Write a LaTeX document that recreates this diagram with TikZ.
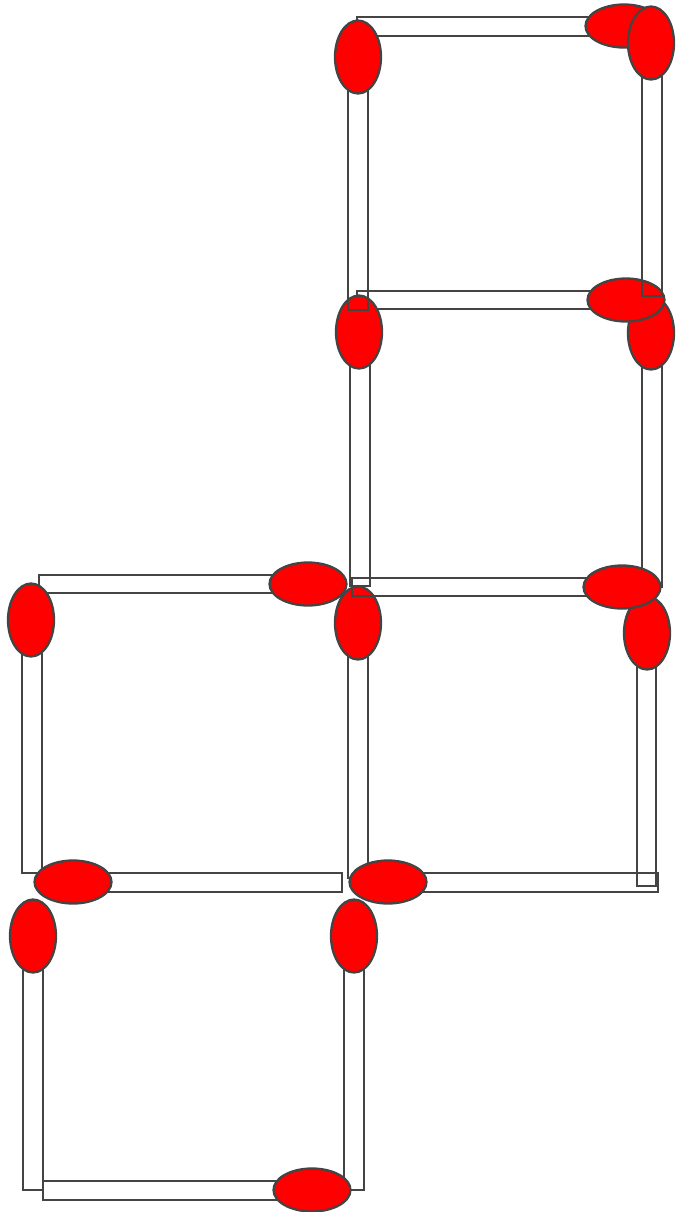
\documentclass[tikz,border=0pt]{standalone}
\usepackage{tikz}
\definecolor{edgegray}{HTML}{444444}
\definecolor{headred}{HTML}{FF0000}
\begin{document}
\begin{tikzpicture}[x=0.5pt,y=-0.5pt,
  stick/.style={draw=edgegray,line width=1.15pt},
  headv/.style={draw=edgegray,fill=headred,line width=1.15pt,x radius=11.5pt,y radius=18.25pt},
  headh/.style={draw=edgegray,fill=headred,line width=1.15pt,x radius=19.25pt,y radius=10.75pt}]
\useasboundingbox (0,0) rectangle (677,1212);
% M6 second square right vertical
\draw[stick] (642,333) rectangle (662,587);
\path[headv] (651,333) ellipse [];
% M4 second horizontal
\draw[stick] (357,291) rectangle (626,309);
\path[headh] (626,300) ellipse [];
% M1 top horizontal
\draw[stick] (357,17) rectangle (624,36);
\path[headh] (624,26) ellipse [];
% M5 second square left vertical
\draw[stick] (350,332) rectangle (370,586);
\path[headv] (359,332) ellipse [];
% M2 top square left vertical
\draw[stick] (348,57) rectangle (368,310);
\path[headv] (358,57) ellipse [];
% M3 top square right vertical
\draw[stick] (642,43) rectangle (662,296);
\path[headv] (651,43) ellipse [];
% M10 lower right square left vertical
\draw[stick] (348,623) rectangle (368,878);
\path[headv] (358,623) ellipse [];
% M11 lower right square right vertical
\draw[stick] (637,633) rectangle (656,886);
\path[headv] (647,633) ellipse [];
% M7 third horizontal right
\draw[stick] (352,578) rectangle (622,596);
\path[headh] (622,587) ellipse [];
% M8 left square top horizontal
\draw[stick] (39,575) rectangle (308,593);
\path[headh] (308,584) ellipse [];
% M9 left square left vertical
\draw[stick] (22,620) rectangle (42,873);
\path[headv] (31,620) ellipse [];
% M12 left bottom horizontal
\draw[stick] (73,873) rectangle (342,892);
\path[headh] (73,882) ellipse [];
% M13 right bottom horizontal
\draw[stick] (388,873) rectangle (658,892);
\path[headh] (388,882) ellipse [];
% M14 bottom square left vertical
\draw[stick] (23,936) rectangle (43,1190);
\path[headv] (33,936) ellipse [];
% M15 bottom square right vertical
\draw[stick] (344,936) rectangle (364,1190);
\path[headv] (354,936) ellipse [];
% M16 bottom horizontal
\draw[stick] (43,1181) rectangle (312,1200);
\path[headh] (312,1190) ellipse [];
\end{tikzpicture}
\end{document}
